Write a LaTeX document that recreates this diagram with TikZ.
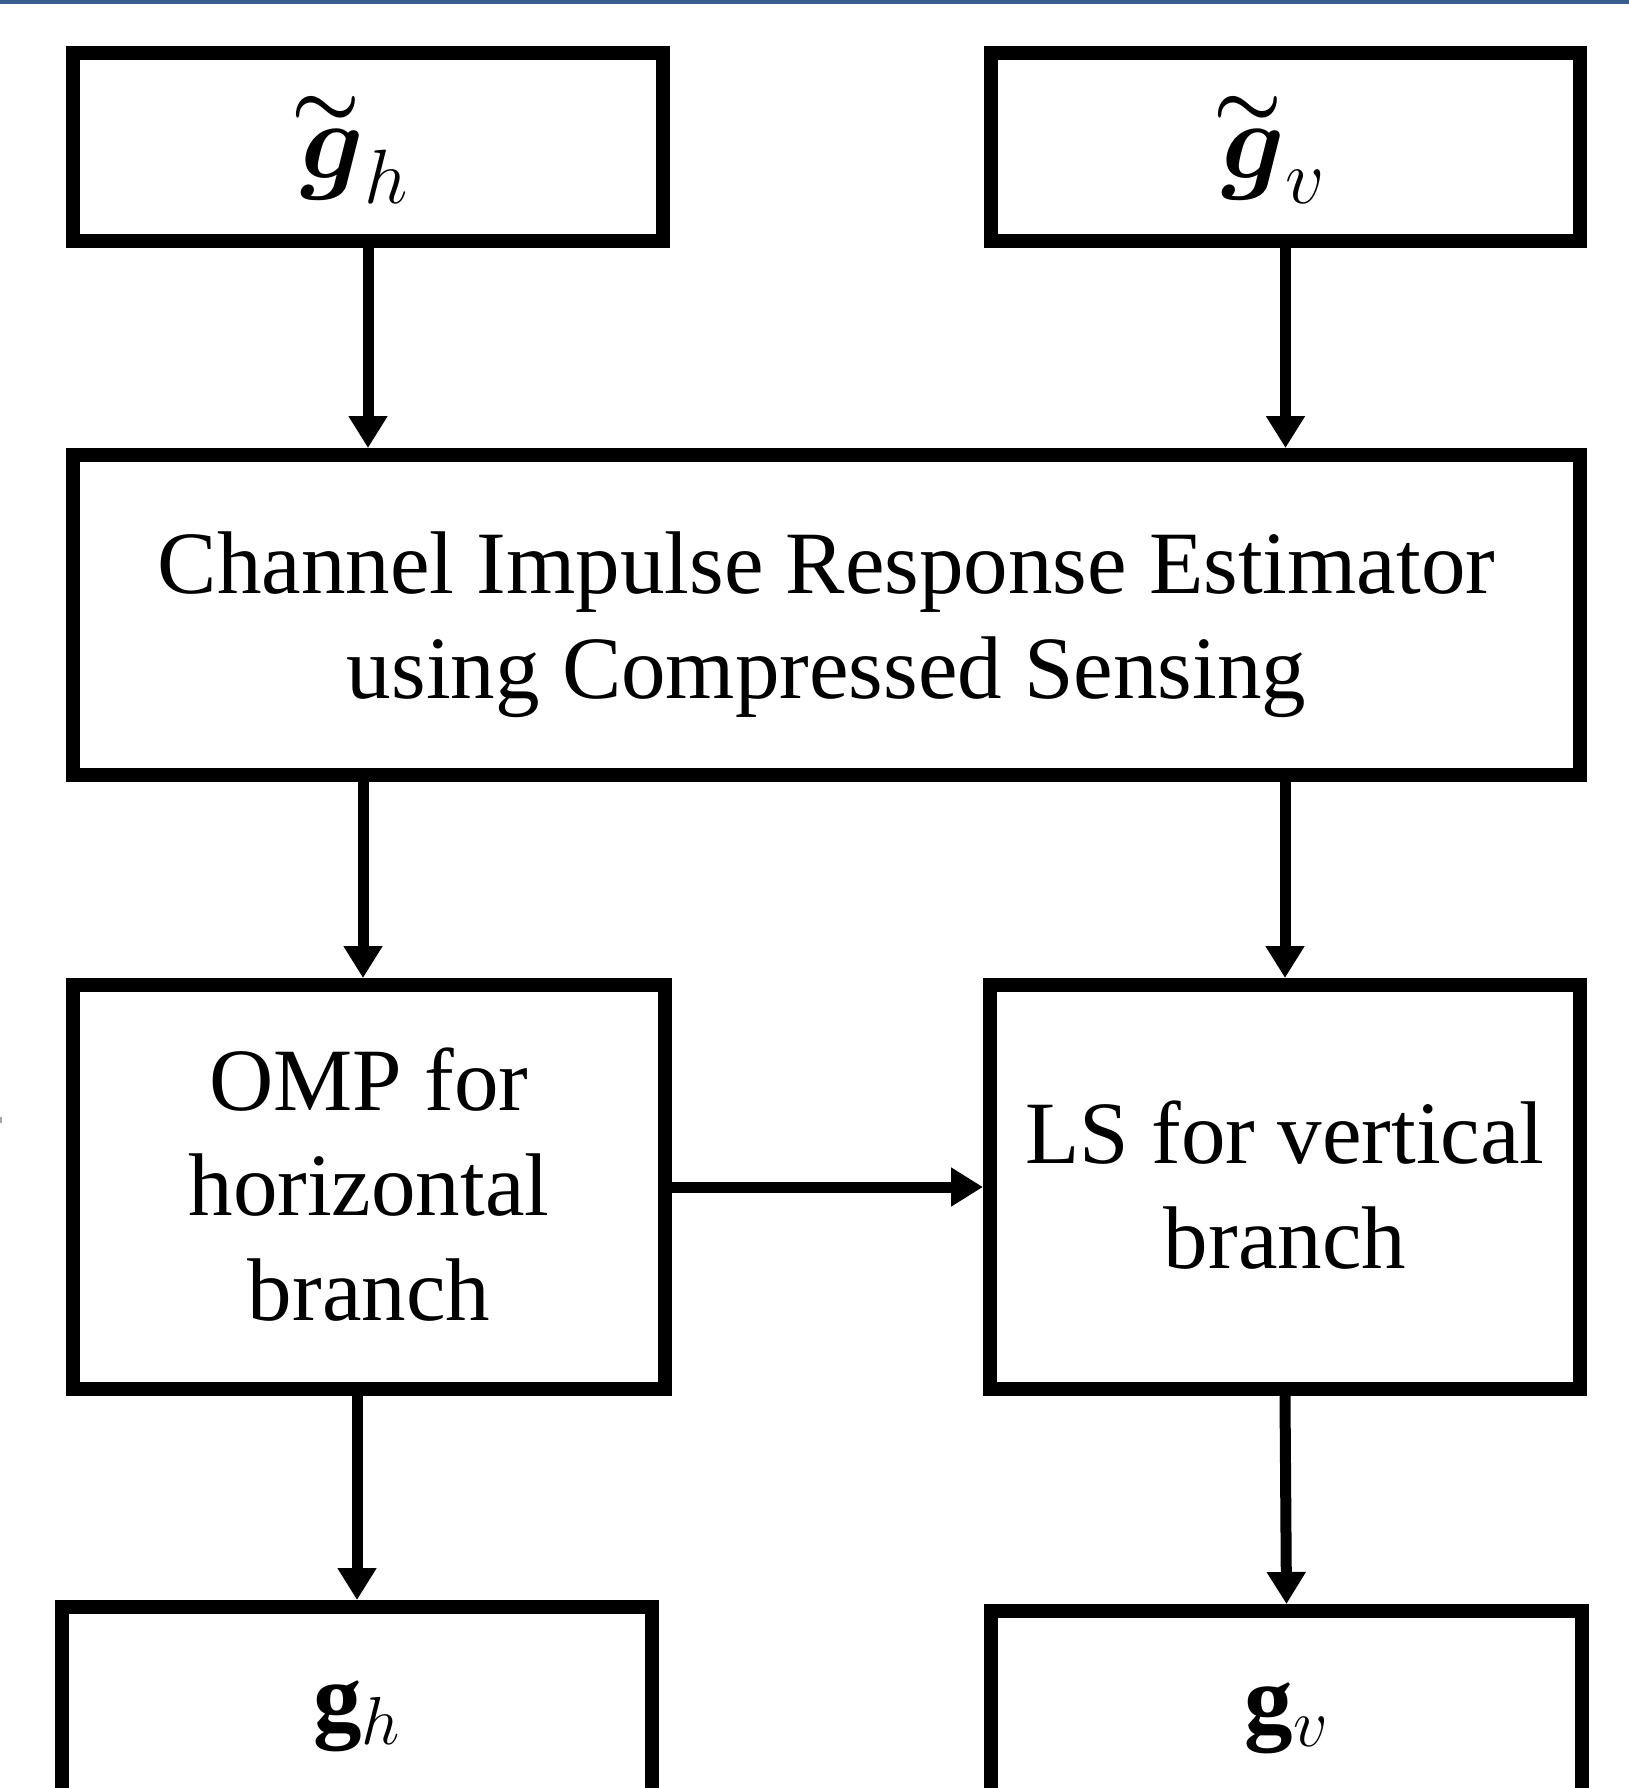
\RequirePackage{fix-cm}
\documentclass[tikz,border=0pt]{standalone}
\usepackage{amsmath}
\usepackage{bm}
\usepackage{fontspec}
\setmainfont{Liberation Serif}
\usetikzlibrary{arrows.meta}
\definecolor{bandblue}{RGB}{58,94,140}
\newcommand{\tildeg}{\mathord{\bm{g}\llap{\raisebox{0.47em}{$\scriptstyle\bm{\sim}$}\hspace{0.03em}}}}
\tikzset{
  blk/.style={draw=black, line width=14pt, fill=white, inner sep=0pt, align=center,
    font=\fontsize{89}{105}\selectfont},
  txt/.style={inner sep=0pt, align=center, font=\fontsize{89}{105}\selectfont},
  mtxt/.style={inner sep=0pt, anchor=base, font=\fontsize{110}{130}\selectfont},
  mathboxb/.style={blk, font=\fontsize{97}{110}\selectfont},
  conn/.style={draw=black, line width=11pt, -{Triangle[width=37pt,length=32pt]}}
}
\begin{document}
\begin{tikzpicture}[x=1pt,y=-1pt]
\useasboundingbox (0,0) rectangle (1629,1788);
\begin{scope}
\clip (0,0) rectangle (1629,1788);
\fill[bandblue] (0,0) rectangle (1629,4);
\fill[gray!70] (0,1117) rectangle (2,1123);
\node[blk, minimum width=590pt, minimum height=188pt] (tl) at (368,147) {};
\node[mtxt] (tlt) at ([xshift=-14pt,yshift=-31pt]tl.center) {$\tildeg_h$};
\node[blk, minimum width=589pt, minimum height=188pt] (tr) at (1285.5,147) {};
\node[mtxt] (trt) at ([xshift=-12pt,yshift=-31pt]tr.center) {$\tildeg_v$};
\node[blk, minimum width=1507pt, minimum height=320pt] (cs) at (826.5,615) {};
\node[txt] (cst) at ([yshift=-10pt]cs.center) {Channel Impulse Response Estimator\\using Compressed Sensing};
\node[blk, minimum width=592pt, minimum height=404pt] (omp) at (369,1187) {};
\node[txt] (ompt) at ([yshift=2pt]omp.center) {OMP for\\horizontal\\branch};
\node[blk, minimum width=590pt, minimum height=404pt] (ls) at (1285,1187) {};
\node[txt] (lst) at ([yshift=2pt]ls.center) {LS for vertical\\branch};
\node[mathboxb, minimum width=590pt, minimum height=218pt] (gh) at (357,1716) {$\mathbf{g}_h$};
\node[mathboxb, minimum width=591pt, minimum height=214pt] (gv) at (1286.5,1718) {$\mathbf{g}_v$};
\draw[conn] (tl.south) -- (tl.south |- cs.north);
\draw[conn] (tr.south) -- (tr.south |- cs.north);
\draw[conn] ([xshift=-6pt]omp.north |- cs.south) -- ([xshift=-6pt]omp.north);
\draw[conn] (ls.north |- cs.south) -- (ls.north);
\draw[conn] (omp.east) -- (ls.west);
\draw[conn] (gh.north |- omp.south) -- (gh.north);
\draw[conn] (ls.south) -- (gv.north);
\end{scope}
\end{tikzpicture}
\end{document}
